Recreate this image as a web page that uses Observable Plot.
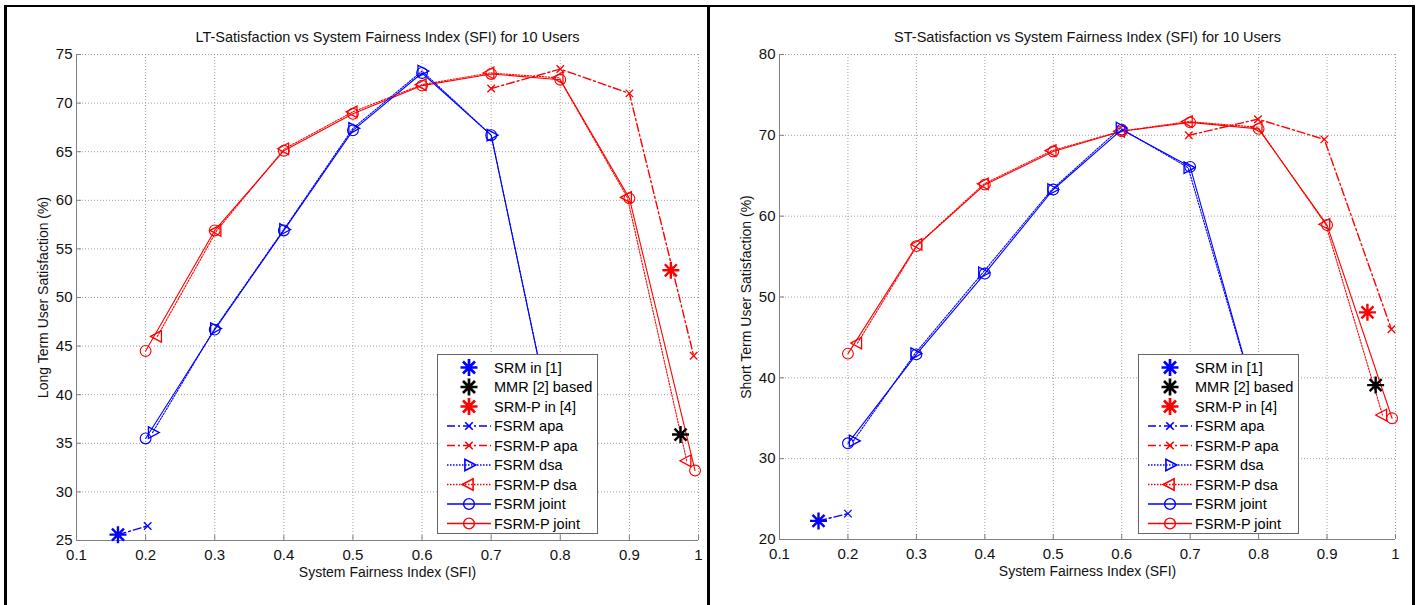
<!DOCTYPE html>
<html><head><meta charset="utf-8">
<script src="https://cdn.jsdelivr.net/npm/d3@7"></script>
<script src="https://cdn.jsdelivr.net/npm/@observablehq/plot@0.6"></script>
<style>
body{margin:0;background:#fff;font-family:"Liberation Sans",Arial,sans-serif;}
#wrap{position:relative;width:1419px;height:605px;overflow:hidden;background:#fff;}
.panel{position:absolute;top:0;}
.bar{position:absolute;background:#000;}
.legend{position:absolute;background:#fff;border:1px solid #666;box-sizing:border-box;}
</style></head><body><div id="wrap"></div>
<script>
// ---------- shared axis data ----------
const xTicks = [0.1,0.2,0.3,0.4,0.5,0.6,0.7,0.8,0.9,1];
const xTickLabels = ["0.1","0.2","0.3","0.4","0.5","0.6","0.7","0.8","0.9","1"];
const ltYTicks = [25,30,35,40,45,50,55,60,65,70,75];
const stYTicks = [20,30,40,50,60,70,80];
const legendNames = ["SRM in [1]","MMR [2] based","SRM-P in [4]","FSRM apa","FSRM-P apa","FSRM dsa","FSRM-P dsa","FSRM joint","FSRM-P joint"];

// ---------- LT panel data ----------
const ltSrmX = [0.16],  ltSrmY = [25.6];
const ltMmrX = [0.974], ltMmrY = [35.9];
const ltSrmpX = [0.96], ltSrmpY = [52.8];
const ltFsrmApaX = [0.16, 0.203], ltFsrmApaY = [25.6, 26.5];
const ltFsrmpApaX = [0.7, 0.8, 0.9, 0.993], ltFsrmpApaY = [71.5, 73.5, 71.0, 44.0];
const ltFsrmDsaX = [0.21, 0.3, 0.4, 0.5, 0.6, 0.7, 0.8], ltFsrmDsaY = [36.1, 46.8, 57.0, 67.4, 73.3, 66.7, 33.1];
const ltFsrmpDsaX = [0.217, 0.303, 0.401, 0.5, 0.6, 0.698, 0.798, 0.897, 0.983], ltFsrmpDsaY = [46.0, 56.9, 65.3, 69.1, 71.9, 73.1, 72.6, 60.3, 33.2];
const ltFsrmJointX = [0.2, 0.3, 0.4, 0.5, 0.6, 0.7, 0.8], ltFsrmJointY = [35.5, 46.7, 56.9, 67.2, 73.1, 66.7, 33.0];
const ltFsrmpJointX = [0.2, 0.3, 0.4, 0.5, 0.6, 0.7, 0.8, 0.9, 0.995], ltFsrmpJointY = [44.5, 56.9, 65.1, 68.9, 71.8, 73.0, 72.4, 60.2, 32.2];

// ---------- ST panel data ----------
const stSrmX = [0.157], stSrmY = [22.3];
const stMmrX = [0.971], stMmrY = [39.1];
const stSrmpX = [0.959], stSrmpY = [48.1];
const stFsrmApaX = [0.157, 0.2], stFsrmApaY = [22.3, 23.2];
const stFsrmpApaX = [0.698, 0.799, 0.896, 0.994], stFsrmpApaY = [70.0, 72.0, 69.5, 46.0];
const stFsrmDsaX = [0.208, 0.298, 0.397, 0.498, 0.598, 0.697, 0.8], stFsrmDsaY = [32.2, 43.0, 53.0, 63.3, 70.9, 66.0, 36.0];
const stFsrmpDsaX = [0.214, 0.302, 0.399, 0.498, 0.598, 0.697, 0.799, 0.898, 0.981], stFsrmpDsaY = [44.3, 56.5, 64.0, 68.1, 70.5, 71.7, 71.0, 59.0, 35.4];
const stFsrmJointX = [0.2, 0.3, 0.4, 0.5, 0.6, 0.7, 0.8], stFsrmJointY = [31.9, 42.9, 52.9, 63.3, 70.7, 66.1, 36.0];
const stFsrmpJointX = [0.2, 0.3, 0.4, 0.5, 0.6, 0.7, 0.8, 0.9, 0.995], stFsrmpJointY = [43.0, 56.3, 63.9, 68.0, 70.5, 71.6, 70.8, 58.9, 35.0];

// ---------- symbols ----------
const rad = s => Math.sqrt(s / Math.PI);
const symStar = {draw(c, s){const r = rad(s); for (let k = 0; k < 4; k++){const a = k*Math.PI/4; c.moveTo(r*Math.cos(a), r*Math.sin(a)); c.lineTo(-r*Math.cos(a), -r*Math.sin(a));}}};
const symX = {draw(c, s){const r = rad(s)*0.75; c.moveTo(-r,-r); c.lineTo(r,r); c.moveTo(r,-r); c.lineTo(-r,r);}};
const symTriR = {draw(c, s){const r = rad(s); c.moveTo(r,0); c.lineTo(-r*0.6,-r*0.85); c.lineTo(-r*0.6,r*0.85); c.closePath();}};
const symTriL = {draw(c, s){const r = rad(s); c.moveTo(-r,0); c.lineTo(r*0.6,-r*0.85); c.lineTo(r*0.6,r*0.85); c.closePath();}};
const symCircle = {draw(c, s){const r = rad(s); c.moveTo(r,0); c.arc(0,0,r,0,2*Math.PI);}};

const BLUE = "#0000ff", RED = "#ff0000", BLACK = "#000000";
const DASHDOT = "8,3,2,3", DOTTED = "1.5,1.5";
// style per legend entry (same order as legendNames)
const styles = [
  {color: BLUE,  dash: null,    line: false, sym: symStar,   r: 8.5, sw: 2.4, lw: 1},
  {color: BLACK, dash: null,    line: false, sym: symStar,   r: 8.5, sw: 2.4, lw: 1},
  {color: RED,   dash: null,    line: false, sym: symStar,   r: 8.5, sw: 2.4, lw: 1},
  {color: BLUE,  dash: DASHDOT, line: true,  sym: symX,      r: 5,   sw: 1.3, lw: 1.4},
  {color: RED,   dash: DASHDOT, line: true,  sym: symX,      r: 5,   sw: 1.3, lw: 1.4},
  {color: BLUE,  dash: DOTTED,  line: true,  sym: symTriR,   r: 6.8, sw: 1.3, lw: 1.1},
  {color: RED,   dash: DOTTED,  line: true,  sym: symTriL,   r: 6.8, sw: 1.3, lw: 1.1},
  {color: BLUE,  dash: null,    line: true,  sym: symCircle, r: 5.4, sw: 1.1, lw: 1.1},
  {color: RED,   dash: null,    line: true,  sym: symCircle, r: 5.4, sw: 1.1, lw: 1.1}
];

const FONT = '"Liberation Sans", Arial, Helvetica, sans-serif';

function panel({series, yDomain, yTicks, title, ylabel, width, height, mL, mR, mT, mB}) {
  const marks = [
    Plot.gridX(xTicks, {stroke: "#a0a0a0", strokeOpacity: 1, strokeDasharray: "1,2"}),
    Plot.gridY(yTicks, {stroke: "#a0a0a0", strokeOpacity: 1, strokeDasharray: "1,2"}),
    Plot.ruleY([yDomain[0]], {stroke: "#808080"}),
    Plot.ruleX([xTicks[0]], {stroke: "#808080"}),
    Plot.axisX(xTicks, {tickSize: -5, tickPadding: 14, stroke: "#808080", fill: "#111", fontSize: 15,
      tickFormat: (d, i) => xTickLabels[i], label: null}),
    Plot.axisY(yTicks, {tickSize: -5, tickPadding: 9, stroke: "#808080", fill: "#111", fontSize: 15, label: null}),
    Plot.text([title], {frameAnchor: "top", lineAnchor: "middle", dy: -17, fontSize: 14.5, fill: "#111"}),
    Plot.text([ylabel], {frameAnchor: "left", textAnchor: "middle", lineAnchor: "middle", dx: -33, rotate: -90, fontSize: 14, fill: "#111"}),
    Plot.text(["System Fairness Index (SFI)"], {frameAnchor: "bottom", lineAnchor: "middle", dy: 32, fontSize: 14, fill: "#111"})
  ];
  const order = [8,7,6,5,4,3,2,1,0];
  for (const i of order) {
    const st = styles[i];
    const pts = d3.zip(series[i][0], series[i][1]);
    if (st.line) marks.push(Plot.line(pts, {x: d => d[0], y: d => d[1], stroke: st.color, strokeWidth: st.lw, strokeDasharray: st.dash}));
  }
  for (const i of order) {
    const st = styles[i];
    const pts = d3.zip(series[i][0], series[i][1]);
    marks.push(Plot.dot(pts, {x: d => d[0], y: d => d[1], symbol: st.sym, r: st.r, stroke: st.color, fill: "none", strokeWidth: st.sw}));
  }
  return Plot.plot({
    width, height, marginLeft: mL, marginRight: mR, marginTop: mT, marginBottom: mB,
    x: {domain: [0.1, 1]}, y: {domain: yDomain},
    style: {fontFamily: FONT, fontSize: "14px", background: "transparent", overflow: "visible"},
    marks
  });
}

function legend(left, top) {
  const div = document.createElement("div");
  div.className = "legend";
  Object.assign(div.style, {left: left + "px", top: top + "px", width: "161px", height: "180px"});
  const svg = d3.create("svg").attr("width", 159).attr("height", 178).style("display", "block");
  legendNames.forEach((name, i) => {
    const y = 12.5 + i * 19.5;
    const st = styles[i];
    if (st.line) svg.append("line").attr("x1", 9).attr("x2", 53).attr("y1", y).attr("y2", y)
      .attr("stroke", st.color).attr("stroke-width", 1.5).attr("stroke-dasharray", st.dash);
    svg.append("path").attr("transform", `translate(31,${y})`)
      .attr("d", d3.symbol(st.sym, st.r * st.r * Math.PI)())
      .attr("fill", "none").attr("stroke", st.color).attr("stroke-width", st.sw + 0.3);
    svg.append("text").attr("x", 56).attr("y", y).attr("dy", "0.35em")
      .attr("font-family", FONT).attr("font-size", 14.5).attr("fill", "#000").text(name);
  });
  div.appendChild(svg.node());
  return div;
}

const wrap = document.getElementById("wrap");

const ltSeries = [[ltSrmX, ltSrmY], [ltMmrX, ltMmrY], [ltSrmpX, ltSrmpY], [ltFsrmApaX, ltFsrmApaY], [ltFsrmpApaX, ltFsrmpApaY],
  [ltFsrmDsaX, ltFsrmDsaY], [ltFsrmpDsaX, ltFsrmpDsaY], [ltFsrmJointX, ltFsrmJointY], [ltFsrmpJointX, ltFsrmpJointY]];
const stSeries = [[stSrmX, stSrmY], [stMmrX, stMmrY], [stSrmpX, stSrmpY], [stFsrmApaX, stFsrmApaY], [stFsrmpApaX, stFsrmpApaY],
  [stFsrmDsaX, stFsrmDsaY], [stFsrmpDsaX, stFsrmpDsaY], [stFsrmJointX, stFsrmJointY], [stFsrmpJointX, stFsrmpJointY]];

const p1 = document.createElement("div"); p1.className = "panel"; p1.style.left = "0px";
p1.appendChild(panel({series: ltSeries, yDomain: [25, 75], yTicks: ltYTicks,
  title: "LT-Satisfaction vs System Fairness Index (SFI) for 10 Users", ylabel: "Long Term User Satisfaction (%)",
  width: 707, height: 605, mL: 76, mR: 9, mT: 54, mB: 65}));
wrap.appendChild(p1);

const p2 = document.createElement("div"); p2.className = "panel"; p2.style.left = "710px";
p2.appendChild(panel({series: stSeries, yDomain: [20, 80], yTicks: stYTicks,
  title: "ST-Satisfaction vs System Fairness Index (SFI) for 10 Users", ylabel: "Short Term User Satisfaction (%)",
  width: 702, height: 605, mL: 69, mR: 17, mT: 54, mB: 66}));
wrap.appendChild(p2);

wrap.appendChild(legend(437, 354));
wrap.appendChild(legend(1138, 354));

// panel borders
const bars = [[4,5,1411,2],[4,5,3,600],[707,5,3,600],[1412,5,3,600]];
for (const [l,t,w,h] of bars) { const b = document.createElement("div"); b.className = "bar";
  Object.assign(b.style, {left: l+"px", top: t+"px", width: w+"px", height: h+"px"}); wrap.appendChild(b); }
</script></body></html>
